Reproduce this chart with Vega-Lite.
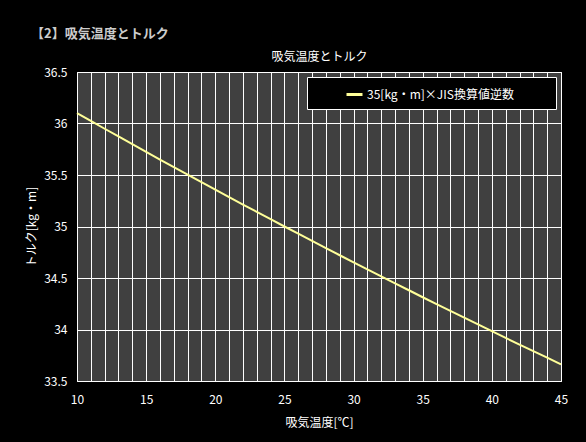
{
  "$schema": "https://vega.github.io/schema/vega-lite/v6.json",
  "width": 484,
  "height": 309,
  "autosize": {"type": "none"},
  "padding": {"left": 77, "top": 72, "right": 25, "bottom": 61},
  "background": "black",
  "title": {
    "text": "【2】吸気温度とトルク",
    "anchor": "start",
    "frame": "group",
    "dx": -46,
    "offset": 9,
    "font": "Noto Sans CJK JP",
    "fontSize": 13,
    "fontWeight": "bold",
    "color": "#cccccc"
  },
  "config": {
    "font": "Noto Sans CJK JP",
    "view": {"fill": "#404040", "stroke": "white", "strokeWidth": 1},
    "axis": {
      "gridColor": "white",
      "gridOpacity": 1,
      "gridWidth": 1,
      "domain": false,
      "ticks": false,
      "labelColor": "white",
      "labelFontSize": 12,
      "labelFlush": false,
      "titleColor": "white",
      "titleFontSize": 12,
      "titleFontWeight": "normal"
    }
  },
  "data": {
    "values": [
      {"t": 10, "torque": 36.101, "series": "35[kg・m]×JIS換算値逆数"},
      {"t": 11, "torque": 36.025, "series": "35[kg・m]×JIS換算値逆数"},
      {"t": 12, "torque": 35.949, "series": "35[kg・m]×JIS換算値逆数"},
      {"t": 13, "torque": 35.874, "series": "35[kg・m]×JIS換算値逆数"},
      {"t": 14, "torque": 35.799, "series": "35[kg・m]×JIS換算値逆数"},
      {"t": 15, "torque": 35.724, "series": "35[kg・m]×JIS換算値逆数"},
      {"t": 16, "torque": 35.650, "series": "35[kg・m]×JIS換算値逆数"},
      {"t": 17, "torque": 35.576, "series": "35[kg・m]×JIS換算値逆数"},
      {"t": 18, "torque": 35.503, "series": "35[kg・m]×JIS換算値逆数"},
      {"t": 19, "torque": 35.430, "series": "35[kg・m]×JIS換算値逆数"},
      {"t": 20, "torque": 35.357, "series": "35[kg・m]×JIS換算値逆数"},
      {"t": 21, "torque": 35.285, "series": "35[kg・m]×JIS換算値逆数"},
      {"t": 22, "torque": 35.213, "series": "35[kg・m]×JIS換算値逆数"},
      {"t": 23, "torque": 35.142, "series": "35[kg・m]×JIS換算値逆数"},
      {"t": 24, "torque": 35.071, "series": "35[kg・m]×JIS換算値逆数"},
      {"t": 25, "torque": 35.000, "series": "35[kg・m]×JIS換算値逆数"},
      {"t": 26, "torque": 34.930, "series": "35[kg・m]×JIS換算値逆数"},
      {"t": 27, "torque": 34.860, "series": "35[kg・m]×JIS換算値逆数"},
      {"t": 28, "torque": 34.790, "series": "35[kg・m]×JIS換算値逆数"},
      {"t": 29, "torque": 34.721, "series": "35[kg・m]×JIS換算値逆数"},
      {"t": 30, "torque": 34.652, "series": "35[kg・m]×JIS換算値逆数"},
      {"t": 31, "torque": 34.583, "series": "35[kg・m]×JIS換算値逆数"},
      {"t": 32, "torque": 34.515, "series": "35[kg・m]×JIS換算値逆数"},
      {"t": 33, "torque": 34.448, "series": "35[kg・m]×JIS換算値逆数"},
      {"t": 34, "torque": 34.381, "series": "35[kg・m]×JIS換算値逆数"},
      {"t": 35, "torque": 34.313, "series": "35[kg・m]×JIS換算値逆数"},
      {"t": 36, "torque": 34.247, "series": "35[kg・m]×JIS換算値逆数"},
      {"t": 37, "torque": 34.181, "series": "35[kg・m]×JIS換算値逆数"},
      {"t": 38, "torque": 34.115, "series": "35[kg・m]×JIS換算値逆数"},
      {"t": 39, "torque": 34.049, "series": "35[kg・m]×JIS換算値逆数"},
      {"t": 40, "torque": 33.984, "series": "35[kg・m]×JIS換算値逆数"},
      {"t": 41, "torque": 33.918, "series": "35[kg・m]×JIS換算値逆数"},
      {"t": 42, "torque": 33.854, "series": "35[kg・m]×JIS換算値逆数"},
      {"t": 43, "torque": 33.790, "series": "35[kg・m]×JIS換算値逆数"},
      {"t": 44, "torque": 33.726, "series": "35[kg・m]×JIS換算値逆数"},
      {"t": 45, "torque": 33.662, "series": "35[kg・m]×JIS換算値逆数"}
    ]
  },
  "resolve": {"axis": {"x": "independent"}},
  "layer": [
    {
      "mark": {"type": "line", "strokeWidth": 2},
      "encoding": {
        "x": {
          "field": "t",
          "type": "quantitative",
          "scale": {"domain": [10, 45], "nice": false, "zero": false},
          "axis": {
            "title": "吸気温度[℃]",
            "values": [10, 11, 12, 13, 14, 15, 16, 17, 18, 19, 20, 21, 22, 23, 24, 25, 26, 27, 28, 29, 30, 31, 32, 33, 34, 35, 36, 37, 38, 39, 40, 41, 42, 43, 44, 45],
            "labelExpr": "datum.value % 5 == 0 ? datum.label : ''",
            "labelPadding": 13,
            "titlePadding": 12
          }
        },
        "y": {
          "field": "torque",
          "type": "quantitative",
          "scale": {"domain": [33.5, 36.5], "nice": false, "zero": false},
          "axis": {
            "title": "トルク[kg・m]",
            "values": [33.5, 34, 34.5, 35, 35.5, 36, 36.5],
            "format": ".1~f",
            "labelPadding": 10,
            "titlePadding": 5
          }
        },
        "color": {
          "field": "series",
          "type": "nominal",
          "scale": {"range": ["#ffff99"]},
          "legend": {
            "title": "　",
            "titleOrient": "right",
            "titlePadding": 34,
            "orient": "top-right",
            "offset": 5,
            "fillColor": "black",
            "strokeColor": "white",
            "padding": 8,
            "symbolType": "stroke",
            "symbolStrokeWidth": 3,
            "symbolSize": 256,
            "symbolOffset": 30,
            "labelColor": "white",
            "labelFontSize": 12,
            "labelOffset": 3
          }
        }
      }
    },
    {
      "mark": {"type": "point", "opacity": 0},
      "encoding": {
        "x": {
          "field": "t",
          "type": "quantitative",
          "axis": {
            "orient": "top",
            "title": "吸気温度とトルク",
            "labels": false,
            "grid": false,
            "titlePadding": 9
          }
        }
      }
    }
  ]
}
